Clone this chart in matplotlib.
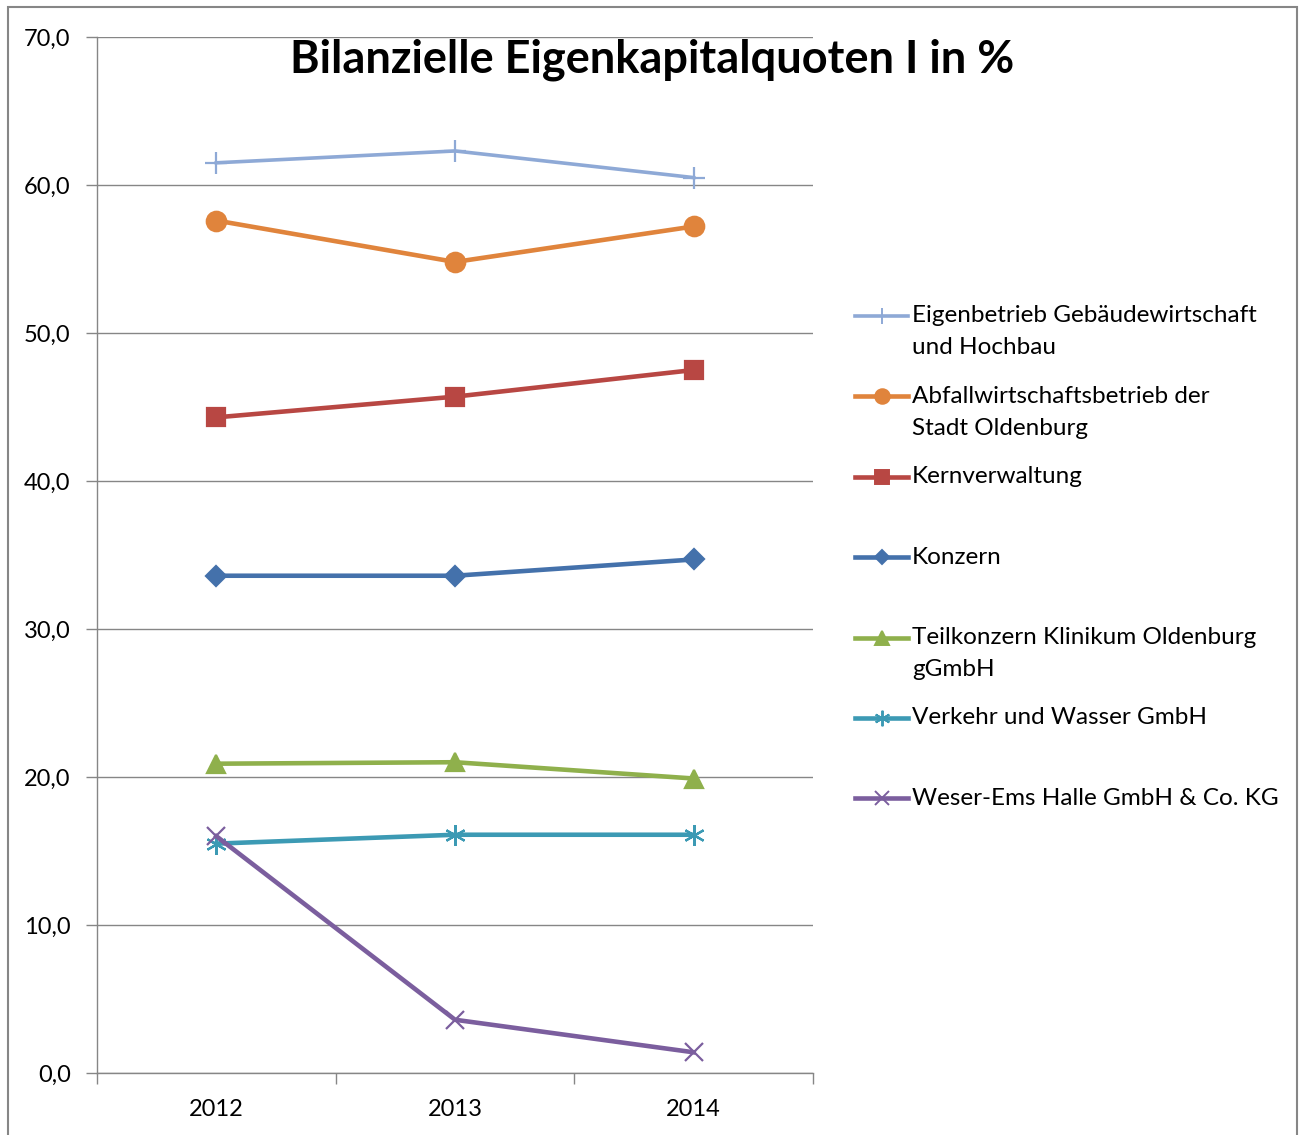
import matplotlib.pyplot as plt
from matplotlib.lines import Line2D
from matplotlib.patches import Rectangle
from matplotlib.ticker import FixedLocator, FuncFormatter

plt.rcParams['font.family'] = ['Lato', 'DejaVu Sans']

years = ["2012", "2013", "2014"]

names = [
    "Eigenbetrieb Gebäudewirtschaft\nund Hochbau",
    "Abfallwirtschaftsbetrieb der\nStadt Oldenburg",
    "Kernverwaltung",
    "Konzern",
    "Teilkonzern Klinikum Oldenburg\ngGmbH",
    "Verkehr und Wasser GmbH",
    "Weser-Ems Halle GmbH & Co. KG",
]

eigenbetrieb = [61.5, 62.3, 60.5]
abfall = [57.6, 54.8, 57.2]
kernverwaltung = [44.3, 45.7, 47.5]
konzern = [33.6, 33.6, 34.7]
klinikum = [20.9, 21.0, 19.9]
verkehr = [15.5, 16.1, 16.1]
weser_ems = [16.0, 3.6, 1.4]

series = [eigenbetrieb, abfall, kernverwaltung, konzern, klinikum, verkehr, weser_ems]

# line style per series: colour, marker, marker size, line width
styles = [
    ("#8EA9D6", "+", 16, 2.6),
    ("#E0843C", "o", 14, 3.3),
    ("#B84743", "s", 13, 3.3),
    ("#4471AB", "D", 10, 3.3),
    ("#8FB04C", "^", 13, 3.3),
    ("#3C9AB4", (6, 2, 0), 15, 3.3),
    ("#7B5E9E", "x", 13, 3.3),
]

fig = plt.figure(figsize=(13.04, 11.35), dpi=100)
ax = fig.add_axes([0.0744, 0.0546, 0.5491, 0.9128])

x = range(len(years))
for vals, (col, mk, ms, lw) in zip(series, styles):
    ax.plot(x, vals, color=col, lw=lw, marker=mk, markersize=ms,
            markeredgewidth=1.6, markeredgecolor=col, markerfacecolor=col,
            solid_joinstyle="round", clip_on=False)

ax.set_xlim(-0.5, 2.5)
ax.set_ylim(0, 70)
ax.set_xticks(list(x))
ax.set_xticklabels(years)
ax.xaxis.set_minor_locator(FixedLocator([-0.5, 0.5, 1.5, 2.5]))
ax.tick_params(axis="x", which="major", length=0, pad=19, labelsize=17)
ax.tick_params(axis="x", which="minor", length=8, width=1, color="#868686")
ax.set_yticks(range(0, 71, 10))
ax.yaxis.set_major_formatter(FuncFormatter(lambda v, p: f"{v:.1f}".replace(".", ",")))
ax.tick_params(axis="y", length=8, width=1, color="#868686", pad=11, labelsize=17)
ax.grid(axis="y", color="#868686", lw=1)
ax.set_axisbelow(True)
for s in ["top", "right"]:
    ax.spines[s].set_visible(False)
for s in ["left", "bottom"]:
    ax.spines[s].set_color("#868686")
    ax.spines[s].set_linewidth(1)

fig.text(0.5, 1 - 60 / 1135, "Bilanzielle Eigenkapitalquoten I in %",
         ha="center", va="center", fontsize=32.5, fontweight="bold")

# legend drawn by hand so the handle sits on the first text line
for i, (name, (col, mk, ms, lw)) in enumerate(zip(names, styles)):
    yy = 1 - (316 + 80.4 * i) / 1135
    fig.add_artist(Line2D([0.6557, 0.6963], [yy, yy], color=col, lw=lw))
    fig.add_artist(Line2D([0.676], [yy], color=col, marker=mk, markersize=ms * 0.75,
                          markeredgewidth=1.4, markeredgecolor=col, markerfacecolor=col))
    fig.text(0.6994, yy, name.split("\n")[0], va="center", ha="left", fontsize=17.5)
    if "\n" in name:
        fig.text(0.6994, yy - 32 / 1135, name.split("\n")[1], va="center", ha="left",
                 fontsize=17.5)

fig.add_artist(Rectangle((8 / 1304, -0.01), 1289 / 1304, 1.01 - 7 / 1135,
                         transform=fig.transFigure, fill=False,
                         edgecolor="#868686", lw=1.5))

fig.savefig("out.png", dpi=100)
